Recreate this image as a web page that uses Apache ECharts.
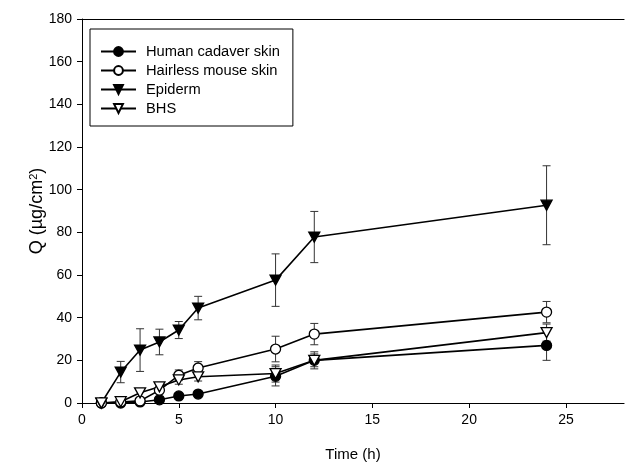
<!DOCTYPE html>
<html lang="en" style="height: 100%">
<head>
    <meta charset="utf-8">
    <title>Q vs time</title>
    <script src="https://cdn.jsdelivr.net/npm/echarts@6/dist/echarts.min.js"></script>
</head>
<body style="height: 100%; width: 100%; margin: 0; background: #fff">
<div id="main" style="width: 629px; height: 467px;"></div>
<script type="text/javascript">
    // data
    var times = [1, 2, 3, 4, 5, 6, 10, 12, 24];
    var cadaver = [0, 0, 0.5, 1.5, 3.3, 4.2, 12.5, 20, 27];
    var hairless = [0, 0.5, 1, 6, 13, 16.4, 25.3, 32.3, 42.6];
    var epiderm = [0, 14.5, 24.8, 28.6, 34.2, 44.5, 57.6, 77.8, 92.7];
    var bhs = [0, 0.6, 4.8, 7.6, 10.8, 12.3, 13.8, 20, 33];
    // error bar half widths
    var cadaverErr = [0, 0, 0, 0.5, 1, 1, 4.5, 3, 7];
    var hairlessErr = [0, 0, 0, 1, 2.5, 3, 6, 5, 5];
    var epidermErr = [0, 5, 10, 6, 4, 5.5, 12.3, 12, 18.5];
    var bhsErr = [0, 0, 0, 1, 2, 2, 4, 4, 4];
    var xTicks = [0, 5, 10, 15, 20, 25];

    var names = ['Human cadaver skin', 'Hairless mouse skin', 'Epiderm', 'BHS'];
    var triDown = 'path://M0,0 L10,0 L5,9 Z';

    var myChart = echarts.init(document.getElementById('main'));

    function pairs(vals) {
        return times.map(function (t, i) { return [t, vals[i]]; });
    }

    function errBars(vals, errs) {
        var d = [];
        times.forEach(function (t, i) {
            if (errs[i] > 0) d.push([t, vals[i] - errs[i], vals[i] + errs[i]]);
        });
        return {
            type: 'custom',
            z: 1,
            silent: true,
            data: d,
            renderItem: function (params, api) {
                var lo = api.coord([api.value(0), api.value(1)]);
                var hi = api.coord([api.value(0), api.value(2)]);
                var w = 4;
                var st = { stroke: '#333', lineWidth: 1 };
                return {
                    type: 'group',
                    children: [
                        { type: 'line', shape: { x1: lo[0], y1: lo[1], x2: hi[0], y2: hi[1] }, style: st },
                        { type: 'line', shape: { x1: lo[0] - w, y1: lo[1], x2: lo[0] + w, y2: lo[1] }, style: st },
                        { type: 'line', shape: { x1: hi[0] - w, y1: hi[1], x2: hi[0] + w, y2: hi[1] }, style: st }
                    ]
                };
            }
        };
    }

    function lineSeries(name, vals, symbol, fill) {
        return {
            name: name,
            type: 'line',
            z: 3,
            data: pairs(vals),
            symbol: symbol,
            symbolSize: symbol === 'circle' ? 10 : [11, 10],
            showAllSymbol: true,
            lineStyle: { color: '#000', width: 1.6 },
            itemStyle: { color: fill, borderColor: '#000', borderWidth: 1.3 },
            emphasis: { disabled: true }
        };
    }

    myChart.setOption({
        animation: false,
        textStyle: { fontFamily: 'Liberation Sans, Arial, sans-serif', color: '#000' },
        grid: { left: 82, top: 19, right: 5, bottom: 64 },
        legend: {
            data: names,
            orient: 'vertical',
            left: 90,
            top: 29,
            borderColor: '#000',
            borderWidth: 1,
            padding: [15, 13, 10, 10],
            itemWidth: 35,
            itemHeight: 11,
            itemGap: 4,
            textStyle: { fontSize: 14.7, color: '#000', padding: [0, 0, 0, 5] }
        },
        xAxis: [{
            type: 'value',
            min: 0,
            max: 28,
            name: 'Time (h)',
            nameLocation: 'middle',
            nameGap: 44,
            nameTextStyle: { fontSize: 15 },
            axisLine: { lineStyle: { color: '#000', width: 1.2 } },
            axisTick: { customValues: xTicks, length: 5, lineStyle: { color: '#000' } },
            axisLabel: { customValues: xTicks, fontSize: 14, color: '#000', margin: 10 },
            splitLine: { show: false }
        }, {
            type: 'value',
            position: 'top',
            min: 0,
            max: 28,
            axisLine: { show: true, onZero: false, lineStyle: { color: '#000', width: 1.2 } },
            axisTick: { show: false },
            axisLabel: { show: false },
            splitLine: { show: false }
        }],
        yAxis: {
            type: 'value',
            min: 0,
            max: 180,
            interval: 20,
            name: 'Q (µg/cm{sup|2})',
            nameLocation: 'middle',
            nameGap: 36,
            nameMoveOverlap: false,
            nameTextStyle: {
                fontSize: 18,
                rich: { sup: { fontSize: 11, verticalAlign: 'top', padding: [0, 0, 6, 0] } }
            },
            axisLine: { show: true, lineStyle: { color: '#000', width: 1 } },
            axisTick: { show: true, length: 5, lineStyle: { color: '#000' } },
            axisLabel: { fontSize: 14, color: '#000', margin: 10 },
            splitLine: { show: false }
        },
        series: [
            errBars(cadaver, cadaverErr),
            errBars(hairless, hairlessErr),
            errBars(epiderm, epidermErr),
            errBars(bhs, bhsErr),
            lineSeries(names[0], cadaver, 'circle', '#000'),
            lineSeries(names[1], hairless, 'circle', '#fff'),
            lineSeries(names[2], epiderm, triDown, '#000'),
            lineSeries(names[3], bhs, triDown, '#fff')
        ]
    });
</script>
</body>
</html>
